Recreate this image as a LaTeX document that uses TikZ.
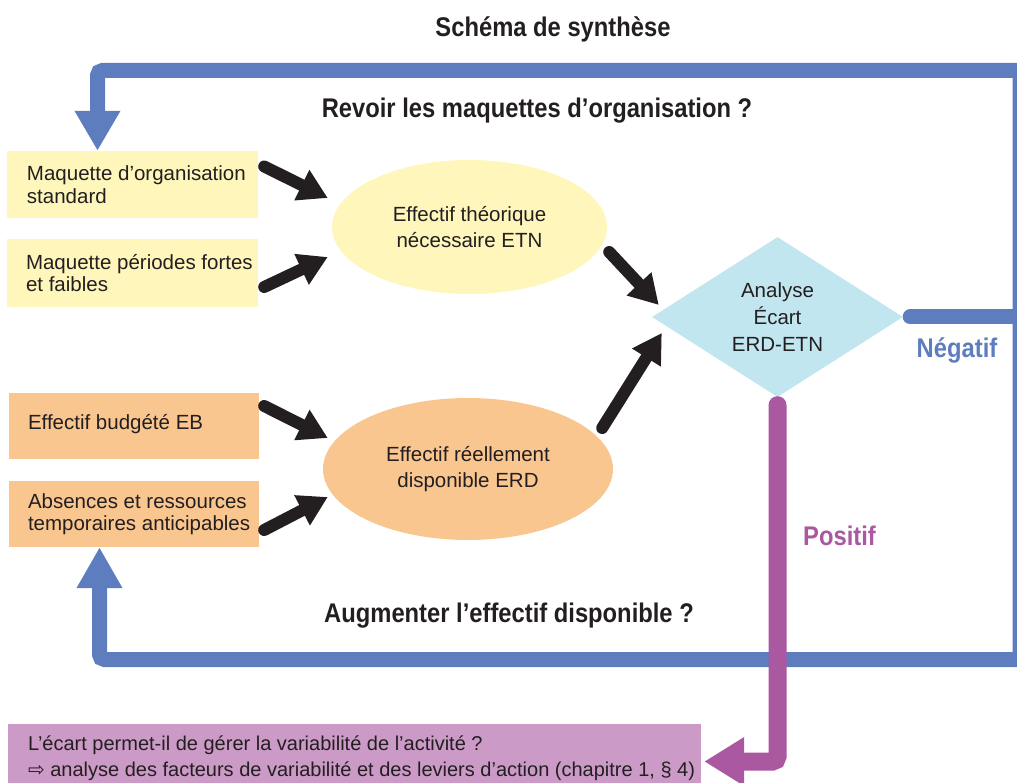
\documentclass[tikz,border=0pt]{standalone}
\usepackage{fontspec}
\setmainfont{Liberation Sans}
\newfontfamily\headfont[FakeStretch=0.88]{Liberation Sans}
\newfontfamily\symfont{DejaVu Sans}
\usetikzlibrary{shapes.geometric,arrows.meta,calc}
\definecolor{blueL}{RGB}{94,125,190}
\definecolor{purpleL}{RGB}{170,88,160}
\definecolor{purpleBox}{RGB}{204,154,199}
\definecolor{yellowBox}{RGB}{255,246,188}
\definecolor{orangeBox}{RGB}{250,198,143}
\definecolor{diaFill}{RGB}{193,230,239}
\definecolor{dark}{RGB}{35,31,32}
\begin{document}
\begin{tikzpicture}[x=1pt,y=-1pt,
  boxshape/.style={rectangle, inner sep=0pt, minimum width=251pt, minimum height=67pt},
  ybox/.style={boxshape, fill=yellowBox},
  obox/.style={boxshape, fill=orangeBox, minimum width=250pt, minimum height=66pt},
  boxtext/.style={anchor=west, inner sep=0pt, align=left, text=dark, font=\fontsize{20.5}{22.5}\selectfont},
  ell/.style={ellipse, inner sep=0pt, align=center, text=dark, font=\fontsize{20.5}{26.5}\selectfont},
  dia/.style={diamond, fill=diaFill, inner sep=0pt, minimum width=251pt, minimum height=153pt, align=center, text=dark, font=\fontsize{20.5}{27}\selectfont},
  head/.style={inner sep=0pt, anchor=base, text=dark, font=\headfont\bfseries\fontsize{27}{30}\selectfont},
  blk/.style={draw=dark, line width=12pt, line cap=round, -{Triangle[length=29pt,width=32pt]}},
  blueline/.style={draw=blueL, line width=15pt, rounded corners=5pt},
  purpleline/.style={draw=purpleL, line width=18pt, rounded corners=5pt, line cap=round}
]
\useasboundingbox (0,0) rectangle (1017,783);

% title and question labels
\node[head] (title) at (553,37) {Schéma de synthèse};
\node[head] (revoir) at (537,118) {Revoir les maquettes d’organisation ?};
\node[head] (augm) at (509,622) {Augmenter l’effectif disponible ?};

% input boxes
\node[ybox] (m1) at (132.5,184.5) {};
\node[boxtext] (m1t) at ($(m1.west)+(20,0)$) {Maquette d’organisation\\standard};
\node[ybox, minimum height=68pt] (m2) at (132.5,273) {};
\node[boxtext] (m2t) at ($(m2.west)+(19,0)$) {Maquette périodes fortes\\et faibles};
\node[obox] (eb) at (134,426) {};
\node[boxtext] (ebt) at ($(eb.west)+(19,-2)$) {Effectif budgété EB};
\node[obox] (abs) at (134,514) {};
\node[boxtext] (abst) at ($(abs.west)+(19,0)$) {Absences et ressources\\temporaires anticipables};

% ellipses and diamond
\node[ell, fill=yellowBox, minimum width=275pt, minimum height=134pt] (etn) at (469.5,227) {Effectif théorique\\nécessaire ETN};
\node[ell, fill=orangeBox, minimum width=290pt, minimum height=142pt] (erd) at (468,469) {Effectif réellement\\disponible ERD};
\node[dia] (dia) at (777.5,317) {Analyse\\Écart\\ERD-ETN};

% result box
\node[rectangle, fill=purpleBox, inner sep=0pt, minimum width=693pt, minimum height=68pt] (res) at (354.5,758) {};
\node[anchor=west, inner sep=0pt, align=left, text=dark, font=\fontsize{20}{26}\selectfont] (rest) at ($(res.west)+(20,0)$)
  {L’écart permet-il de gérer la variabilité de l’activité ?\\{\symfont ⇨} analyse des facteurs de variabilité et des leviers d’action (chapitre 1, § 4)};

% black arrows
\draw[blk] ($(m1.east)+(6,-18)$) -- ($(etn.west)+(-4,-29)$);
\draw[blk] ($(m2.east)+(6,14)$) -- ($(etn.west)+(-4,30)$);
\draw[blk] ($(eb.east)+(5,-20)$) -- ($(erd.west)+(5,-31)$);
\draw[blk] ($(abs.east)+(5,16)$) -- ($(erd.west)+(5,28)$);
\draw[blk] ($(etn.east)+(2,25)$) -- ($(dia.west)+(7,-12)$);
\draw[blk] ($(erd.east)+(-11,-41)$) -- ($(dia.west)+(10,16)$);

% blue feedback loops
\coordinate (jR) at (1020,317);
\coordinate (tl) at (97.5,70.5);
\coordinate (bl) at (99.5,659.5);
\draw[blueline, -{Triangle[length=40pt,width=43pt]}] (jR) |- (tl) -- (tl |- m1.north);
\draw[blueline, -{Triangle[length=41pt,width=43pt]}] (jR) |- (bl) -- (bl |- abs.south);
\draw[blueline, line cap=round] ($(dia.east)+(7,0)$) -- (jR);
\node[head, text=blueL] (neg) at (957,358) {Négatif};

% purple branch
\draw[purpleline, -{Triangle[length=40pt,width=46pt]}] ($(dia.south)+(0,8)$) |- ($(res.east)+(3,3.5)$);
\node[head, text=purpleL, anchor=base west] (pos) at (803,545) {Positif};
\end{tikzpicture}
\end{document}
